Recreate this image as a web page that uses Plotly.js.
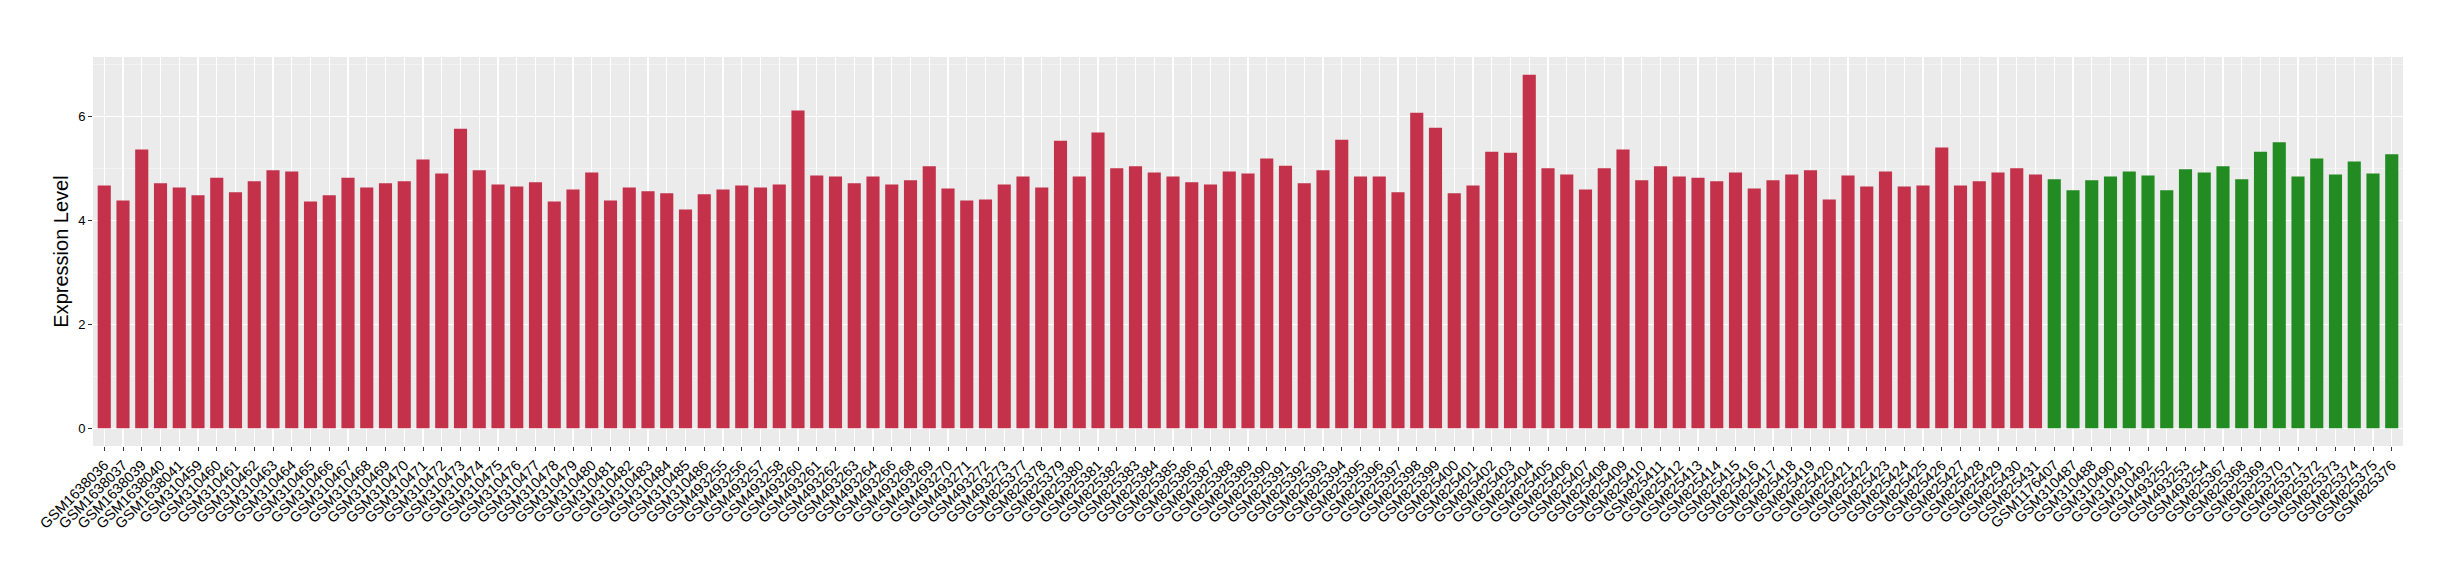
<!DOCTYPE html>
<html>
<head>
<meta charset="utf-8">
<script src="https://cdn.plot.ly/plotly-3.0.1.min.js"></script>
<style>
  html, body { margin: 0; padding: 0; background: #ffffff; }
  #chart { width: 2460px; height: 580px; }
</style>
</head>
<body>
<div id="chart"></div>
<script>
// Samples in group 1 (red)
const redSamples = [
  "GSM1638036","GSM1638037","GSM1638039","GSM1638040","GSM1638041",
  "GSM310459","GSM310460","GSM310461","GSM310462","GSM310463","GSM310464","GSM310465",
  "GSM310466","GSM310467","GSM310468","GSM310469","GSM310470","GSM310471","GSM310472",
  "GSM310473","GSM310474","GSM310475","GSM310476","GSM310477","GSM310478","GSM310479",
  "GSM310480","GSM310481","GSM310482","GSM310483","GSM310484","GSM310485","GSM310486",
  "GSM493255","GSM493256","GSM493257","GSM493258","GSM493260","GSM493261","GSM493262",
  "GSM493263","GSM493264","GSM493266","GSM493268","GSM493269","GSM493270","GSM493271",
  "GSM493272","GSM493273",
  "GSM825377","GSM825378","GSM825379","GSM825380","GSM825381","GSM825382","GSM825383",
  "GSM825384","GSM825385","GSM825386","GSM825387","GSM825388","GSM825389","GSM825390",
  "GSM825391","GSM825392","GSM825393","GSM825394","GSM825395","GSM825396","GSM825397",
  "GSM825398","GSM825399","GSM825400","GSM825401","GSM825402","GSM825403","GSM825404",
  "GSM825405","GSM825406","GSM825407","GSM825408","GSM825409","GSM825410","GSM825411",
  "GSM825412","GSM825413","GSM825414","GSM825415","GSM825416","GSM825417","GSM825418",
  "GSM825419","GSM825420","GSM825421","GSM825422","GSM825423","GSM825424","GSM825425",
  "GSM825426","GSM825427","GSM825428","GSM825429","GSM825430","GSM825431"
];
const redValues = [
  4.67,4.38,5.36,4.71,4.63,
  4.48,4.82,4.54,4.75,4.96,4.94,4.36,
  4.48,4.82,4.63,4.71,4.75,5.17,4.90,
  5.76,4.96,4.69,4.65,4.73,4.36,4.59,
  4.92,4.38,4.63,4.56,4.52,4.21,4.50,
  4.59,4.67,4.63,4.69,6.11,4.86,4.84,
  4.71,4.84,4.69,4.77,5.04,4.61,4.38,
  4.40,4.69,
  4.84,4.63,5.53,4.84,5.69,5.00,5.04,
  4.92,4.84,4.73,4.69,4.94,4.90,5.19,
  5.05,4.71,4.96,5.55,4.84,4.84,4.54,
  6.07,5.78,4.52,4.67,5.32,5.30,6.80,
  5.00,4.88,4.59,5.00,5.36,4.77,5.04,
  4.84,4.82,4.75,4.92,4.61,4.77,4.88,
  4.96,4.40,4.86,4.65,4.94,4.65,4.67,
  5.40,4.67,4.75,4.92,5.00,4.88
];
// Samples in group 2 (green)
const greenSamples = [
  "GSM1176407","GSM310487","GSM310488","GSM310490","GSM310491","GSM310492",
  "GSM493252","GSM493253","GSM493254",
  "GSM825367","GSM825368","GSM825369","GSM825370","GSM825371","GSM825372",
  "GSM825373","GSM825374","GSM825375","GSM825376"
];
const greenValues = [
  4.79,4.58,4.77,4.84,4.94,4.86,
  4.58,4.98,4.92,
  5.04,4.79,5.32,5.50,4.84,5.19,
  4.88,5.13,4.90,5.27
];
const yTicks = [0, 2, 4, 6];
const yTitle = "Expression Level";

const allSamples = redSamples.concat(greenSamples);
const nCat = allSamples.length;
const yMax = Math.max(...redValues, ...greenValues);

const FONT = "Liberation Sans, Arial, Helvetica, sans-serif";

const traces = [
  {
    type: "bar", x: redSamples, y: redValues,
    marker: { color: "#C3314A", line: { width: 0 } },
    hoverinfo: "x+y", showlegend: false
  },
  {
    type: "bar", x: greenSamples, y: greenValues,
    marker: { color: "#228B22", line: { width: 0 } },
    hoverinfo: "x+y", showlegend: false
  }
];

const layout = {
  width: 2460, height: 580,
  paper_bgcolor: "#ffffff",
  plot_bgcolor: "#EBEBEB",
  margin: { l: 93, r: 57, t: 57, b: 134, pad: 0 },
  barmode: "overlay",
  bargap: 0.3,
  showlegend: false,
  font: { family: FONT, color: "#000000" },
  xaxis: {
    type: "category",
    categoryorder: "array",
    categoryarray: allSamples,
    range: [-0.6, nCat - 1 + 0.6],
    tickmode: "linear", tick0: 0, dtick: 1,
    tickangle: -45,
    tickfont: { family: FONT, size: 14.5, color: "#000000" },
    ticks: "outside", ticklen: 4, tickwidth: 1, tickcolor: "#333333",
    showgrid: true, gridcolor: "#ffffff", gridwidth: 1.4,
    zeroline: false, showline: false,
    automargin: false, fixedrange: true
  },
  yaxis: {
    range: [-0.05 * yMax, 1.05 * yMax],
    tickmode: "array", tickvals: yTicks, ticktext: yTicks.map(String),
    tickfont: { family: FONT, size: 13, color: "#000000" },
    ticks: "outside", ticklen: 4, tickwidth: 1, tickcolor: "#333333",
    showgrid: true, gridcolor: "#ffffff", gridwidth: 1.4,
    minor: { dtick: 1, tick0: 0, showgrid: true, gridcolor: "#F5F5F5", gridwidth: 0.8, ticks: "" },
    zeroline: false, showline: false,
    title: { text: yTitle, font: { family: FONT, size: 20, color: "#000000" }, standoff: 4 },
    automargin: false, fixedrange: true
  }
};

Plotly.newPlot("chart", traces, layout, { displayModeBar: false, staticPlot: true });
</script>
</body>
</html>
